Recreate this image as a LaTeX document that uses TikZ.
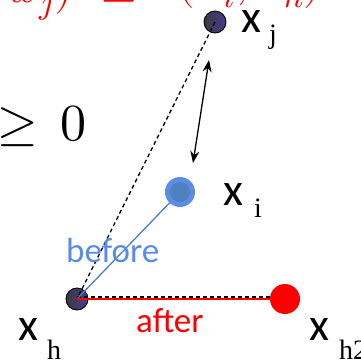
\documentclass[tikz,border=0pt]{standalone}
\usepackage{fontspec}
\usepackage{unicode-math}
\setmainfont{Carlito}
\setmathfont{Latin Modern Math}
\newfontfamily\subfont{Liberation Serif}
\usetikzlibrary{arrows.meta}
\definecolor{bluetxt}{HTML}{5B8BE8}
\definecolor{blueout}{HTML}{5B8CE8}
\definecolor{bluein}{HTML}{4F81BD}
\definecolor{blueline}{HTML}{4A7EBB}
\definecolor{darkL}{HTML}{3A3A3A}
\definecolor{darkR}{HTML}{4B3A8F}
\tikzset{
  darkpt/.style={circle, draw=black, line width=0.9pt, minimum size=22pt, inner sep=0pt, left color=darkL, right color=darkR},
  bluept/.style={circle, fill=blueout, minimum size=30pt, inner sep=0pt},
  redpt/.style={circle, fill=red, minimum size=30pt, inner sep=0pt},
  xlab/.style={anchor=base west, inner sep=0pt, font=\fontsize{46}{46}\selectfont},
  sublab/.style={anchor=base west, inner sep=0pt, font=\subfont\fontsize{28}{28}\selectfont},
  dashln/.style={line width=1.3pt, dash pattern=on 4pt off 3pt},
  twohead/.style={line width=1.3pt, {Stealth[length=12pt,width=9pt]}-{Stealth[length=12pt,width=9pt]}},
}
\begin{document}
\begin{tikzpicture}[x=1pt,y=-1pt]
\useasboundingbox (0,0) rectangle (361,360);
\clip (0,0) rectangle (361,360);
% red formula (cut at top)
\node[anchor=base east, inner sep=0pt, text=red, font=\fontsize{48}{48}\selectfont] (fl) at (73,2) {$d(x_h,x_j)$};
\node[anchor=base west, inner sep=0pt, text=red, font=\fontsize{48}{48}\selectfont] (fr) at (100,-4) {$\geq d(x_i,x_h)$};
% geq 0
\node[anchor=base west, inner sep=0pt, font=\fontsize{52}{52}\selectfont] (geq) at (-3,140) {$\geq\,0$};
% points
\node[darkpt] (xj) at (215,22) {};
\node[darkpt] (xh) at (77,299) {};
\coordinate (ci) at (180,192);
\coordinate (cr) at (285,299);
% connectors
\draw[dashln] (xj.center) -- (xh.center);
\draw[dashln] ([yshift=2pt]xh.center) -- ([yshift=2pt]cr);
\draw[blueline, line width=1.3pt] (xh.center) -- (ci);
\draw[red, line width=2pt] (xh.center) -- (cr);
\coordinate (at) at (209,60);
\coordinate (ab) at (193,163);
\draw[twohead] (ab) -- (at);
% coloured points
\node[bluept] (xi) at (ci) {};
\fill[bluein] (xi.center) circle (10pt);
\node[redpt] (xr) at (cr) {};
% labels
\node[xlab] (lxj) at (241,32) {x};
\node[sublab] (sj) at (269,43) {j};
\node[xlab] (lxi) at (223,205) {x};
\node[sublab] (si) at (254,217) {i};
\node[xlab] (lxh) at (18,340) {x};
\node[sublab] (sh) at (47,359) {h};
\node[xlab] (lxr) at (309,340) {x};
\node[sublab] (sr) at (339,359) {h2};
\node[anchor=base west, inner sep=0pt, text=bluetxt, font=\fontsize{35}{35}\selectfont] (before) at (66,262) {before};
\node[anchor=base west, inner sep=0pt, text=red, font=\fontsize{35}{35}\selectfont] (after) at (136,332) {after};
\end{tikzpicture}
\end{document}
